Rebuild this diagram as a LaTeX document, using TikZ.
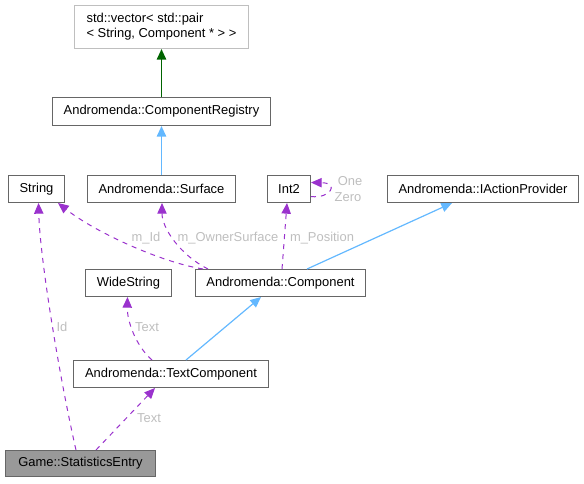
\documentclass[tikz,border=0pt]{standalone}
\usepackage{fontspec}
\setmainfont{Liberation Sans}
\usetikzlibrary{arrows.meta,calc}
\definecolor{bordercol}{HTML}{666666}
\definecolor{extcol}{HTML}{BFBFBF}
\definecolor{maincol}{HTML}{999999}
\definecolor{usecol}{HTML}{9A32CD}
\definecolor{inhcol}{HTML}{63B8FF}
\definecolor{protcol}{HTML}{006400}
\definecolor{lblcol}{HTML}{BEBEBE}
\begin{document}
\begin{tikzpicture}[x=0.75pt,y=-0.75pt,
  box/.style={draw=bordercol, fill=white, line width=0.75pt, inner sep=0pt,
    font=\fontsize{9.7}{11.25}\selectfont, text=black, minimum height=27*0.75pt},
  lbl/.style={font=\fontsize{9.7}{11.25}\selectfont, text=lblcol, inner sep=0pt},
  usage/.style={draw=usecol, dash pattern=on 3.75pt off 3.75pt, line width=0.75pt,
    -{Triangle[length=8pt,width=7pt]}},
  pubinh/.style={draw=inhcol, line width=0.9pt, -{Triangle[length=8pt,width=7pt]}},
  protinh/.style={draw=protcol, line width=0.9pt, -{Triangle[length=8pt,width=7pt]}}]
\useasboundingbox (0,0) rectangle (584,483);

\node[box, draw=extcol, align=left, minimum width=174*0.75pt, minimum height=43*0.75pt] (vec) at (161.5,27)
  {std::vector< std::pair\\< String, Component * > >};
\node[box, minimum width=218*0.75pt, minimum height=28*0.75pt] (reg) at (161.5,111.5) {Andromenda::ComponentRegistry};
\node[box, minimum width=56*0.75pt] (str) at (36.5,189) {String};
\node[box, minimum width=148*0.75pt] (surf) at (161.5,189) {Andromenda::Surface};
\node[box, minimum width=43*0.75pt] (int2) at (289,189) {Int2};
\node[box, minimum width=191*0.75pt] (iap) at (483,189) {Andromenda::IActionProvider};
\node[box, minimum width=86*0.75pt] (wide) at (128.5,283) {WideString};
\node[box, minimum width=170*0.75pt] (comp) at (280.5,283) {Andromenda::Component};
\node[box, minimum width=195*0.75pt] (tcomp) at (171,374) {Andromenda::TextComponent};
\node[box, fill=maincol, minimum width=150*0.75pt, minimum height=26*0.75pt] (stat) at (80.5,463.5) {Game::StatisticsEntry};

% inheritance
\draw[protinh, line width=1.3pt] (reg.north) -- (vec.south);
\draw[pubinh, line width=1.3pt] (surf.north) -- (reg.south);
\draw[pubinh] ($(comp.north west)+(112,0)$) -- ($(iap.south west)+(65,0)$);
\draw[pubinh] ($(tcomp.north west)+(113,0)$) -- ($(comp.south west)+(66,0)$);

% usage
\draw[usage] ($(comp.north west)+(8,0)$) .. controls (160,262) and (95,232) .. ($(str.south east)+(-7,0)$);
\node[lbl] (l1) at (146,238) {m\_Id};
\draw[usage] ($(comp.north west)+(13,0)$) .. controls (180,255) and (162,228) .. ($(surf.south)+(0.5,0)$);
\node[lbl] (l2) at (228,238) {m\_OwnerSurface};
\draw[usage] ($(comp.north west)+(87,0)$) -- ($(int2.south)+(-2,0)$);
\node[lbl] (l3) at (322,238) {m\_Position};
\draw[usage] ($(int2.east)+(0,7.5)$) .. controls (330,199) and (340,183) .. ($(int2.east)+(0,-6.5)$);
\node[lbl] (l4) at (350,181) {One};
\node[lbl] (l5) at (348,197) {Zero};
\draw[usage] ($(tcomp.north west)+(79,0)$) .. controls (135,345) and (127,320) .. ($(wide.south)+(-1,0)$);
\node[lbl] (l6) at (147,327) {Text};
\draw[usage] ($(stat.north west)+(71,0)$) .. controls (60,380) and (40,260) .. ($(str.south)+(2,0)$);
\node[lbl] (l7) at (62,327) {Id};
\draw[usage] ($(stat.north west)+(91,0)$) -- ($(tcomp.south west)+(82,0)$);
\node[lbl] (l8) at (149,418) {Text};
\end{tikzpicture}
\end{document}
